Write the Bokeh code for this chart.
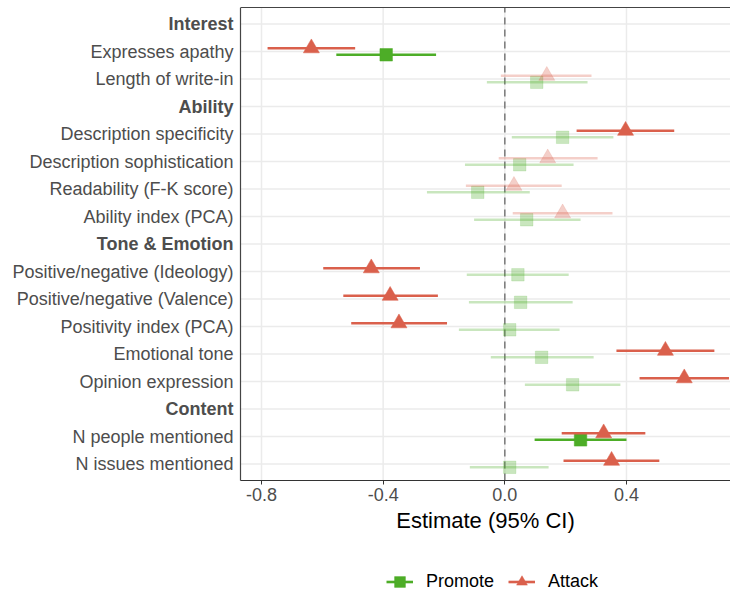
from bokeh.plotting import figure
from bokeh.models import (ColumnDataSource, Range1d, FixedTicker, LinearAxis,
                          Legend, LegendItem, PrintfTickFormatter)
from bokeh.core.properties import value
from bokeh.transform import dodge
from bokeh.embed import file_html
from bokeh.resources import INLINE

# ---------------- data ----------------
rows = ["Interest", "Expresses apathy", "Length of write-in",
        "Ability", "Description specificity", "Description sophistication",
        "Readability (F-K score)", "Ability index (PCA)",
        "Tone & Emotion", "Positive/negative (Ideology)", "Positive/negative (Valence)",
        "Positivity index (PCA)", "Emotional tone", "Opinion expression",
        "Content", "N people mentioned", "N issues mentioned"]
headers = ["Interest", "Ability", "Tone & Emotion", "Content"]
outcomes = [r for r in rows if r not in headers]

promote_est = [-0.390, 0.105, 0.190, 0.049, -0.089, 0.072, 0.043, 0.052, 0.016, 0.121, 0.223, 0.249, 0.016]
promote_lo  = [-0.554, -0.059, 0.023, -0.131, -0.256, -0.101, -0.125, -0.118, -0.151, -0.046, 0.066, 0.098, -0.115]
promote_hi  = [-0.226, 0.272, 0.357, 0.226, 0.082, 0.249, 0.210, 0.223, 0.180, 0.292, 0.380, 0.400, 0.144]
promote_sig = [True, False, False, False, False, False, False, False, False, False, False, True, False]

attack_est = [-0.636, 0.138, 0.397, 0.141, 0.030, 0.190, -0.439, -0.377, -0.348, 0.528, 0.590, 0.325, 0.351]
attack_lo  = [-0.780, -0.013, 0.236, -0.020, -0.128, 0.026, -0.597, -0.531, -0.505, 0.367, 0.443, 0.187, 0.193]
attack_hi  = [-0.492, 0.285, 0.557, 0.305, 0.187, 0.354, -0.279, -0.220, -0.190, 0.689, 0.737, 0.462, 0.508]
attack_sig = [True, False, True, False, False, False, True, True, True, True, True, True, True]

x_ticks = [-0.8, -0.4, 0.0, 0.4]

# ---------------- layout / style ----------------
W, H = 730, 595
PANEL_LEFT, PANEL_TOP, PANEL_BOTTOM = 240, 7, 480      # pixel box of the data panel
PLOT_X_MIN, PLOT_X_MAX = -0.869, 0.742                 # data extent of the panel (x)
n = len(rows)
Y_MIN, Y_MAX = -0.6, n - 1 + 0.6                       # data extent of the panel (y)
PX_X = (W - PANEL_LEFT) / (PLOT_X_MAX - PLOT_X_MIN)
PX_Y = (PANEL_BOTTOM - PANEL_TOP) / (Y_MAX - Y_MIN)

PROMOTE_COLOR = "#4DAD27"
ATTACK_COLOR = "#DA604C"
FONT = "Liberation Sans"
TEXT_GRAY = "#4D4D4D"
GRID = "#EBEBEB"
BORDER = "#444444"

row_pos = {r: n - 1 - i for i, r in enumerate(rows)}


def make_source(est, lo, hi, sig, want):
    idx = [i for i, s in enumerate(sig) if s == want]
    return ColumnDataSource(dict(y=[row_pos[outcomes[i]] for i in idx],
                                 est=[est[i] for i in idx],
                                 lo=[lo[i] for i in idx],
                                 hi=[hi[i] for i in idx]))


p = figure(width=W, height=H,
           x_range=Range1d(PLOT_X_MIN - PANEL_LEFT / PX_X, PLOT_X_MAX),
           y_range=Range1d(Y_MAX - (H - PANEL_TOP) / PX_Y, Y_MAX),
           output_backend="svg", toolbar_location=None,
           min_border_left=0, min_border_right=0, min_border_top=PANEL_TOP, min_border_bottom=0)

p.background_fill_color = "white"
p.border_fill_color = "white"
p.outline_line_color = None
p.yaxis.visible = False
p.ygrid.visible = False
p.xgrid.visible = False

# vertical grid lines (panel only)
vg_src = ColumnDataSource(dict(x=x_ticks))
p.segment(x0="x", x1="x", y0=Y_MIN, y1=Y_MAX, source=vg_src,
          line_color=GRID, line_width=1.5)

# horizontal grid lines (panel only)
grid_src = ColumnDataSource(dict(y=[row_pos[r] for r in rows]))
p.segment(x0=PLOT_X_MIN, x1=PLOT_X_MAX, y0="y", y1="y", source=grid_src,
          line_color=GRID, line_width=1.5)

# zero reference line
p.segment(x0=0, x1=0, y0=Y_MIN, y1=Y_MAX, line_color="#7A7A7A",
          line_width=1.5, line_dash="7 5")

# panel left border
p.segment(x0=PLOT_X_MIN, x1=PLOT_X_MIN, y0=Y_MIN, y1=Y_MAX,
          line_color=BORDER, line_width=1.2)

legend_items = []
for name, color, est, lo, hi, sig, off, marker, size in [
        ("Promote", PROMOTE_COLOR, promote_est, promote_lo, promote_hi, promote_sig, -0.12, "square", 12.5),
        ("Attack", ATTACK_COLOR, attack_est, attack_lo, attack_hi, attack_sig, 0.12, "triangle", 16)]:
    rends = None
    for want, alpha in [(False, 0.3), (True, 1.0)]:
        src = make_source(est, lo, hi, sig, want)
        yd = dodge("y", off)
        seg = p.segment(x0="lo", x1="hi", y0=yd, y1=yd, source=src,
                        line_color=color, line_width=2.6, line_alpha=alpha)
        sc = p.scatter(x="est", y=yd, source=src, marker=marker, size=size,
                       fill_color=color, line_color=color, line_width=0.5,
                       fill_alpha=alpha, line_alpha=alpha)
        if want:
            rends = [seg, sc]
    legend_items.append(LegendItem(label=name, renderers=rends))

# row labels: outcomes regular, section headers bold
lab_src = ColumnDataSource(dict(label=outcomes, y=[row_pos[r] for r in outcomes],
                                x=[PLOT_X_MIN] * len(outcomes)))
p.text(x="x", y="y", text="label", source=lab_src, x_offset=-7,
       text_align="right", text_baseline="middle", text_font=value(FONT),
       text_font_size=value("18px"), text_color=TEXT_GRAY)
hdr_src = ColumnDataSource(dict(label=headers, y=[row_pos[h] for h in headers],
                                x=[PLOT_X_MIN] * len(headers)))
p.text(x="x", y="y", text="label", source=hdr_src, x_offset=-7,
       text_align="right", text_baseline="middle", text_font=value(FONT),
       text_font_size=value("18px"), text_font_style=value("bold"), text_color=TEXT_GRAY)

# x axis, pinned to the bottom of the data panel
xa = p.xaxis[0]
xa.fixed_location = Y_MIN
xa.bounds = (PLOT_X_MIN, PLOT_X_MAX)
xa.ticker = FixedTicker(ticks=x_ticks)
xa.formatter = PrintfTickFormatter(format="%.1f")
xa.minor_tick_line_color = None
xa.major_tick_in = 0
xa.major_tick_out = 4
xa.major_tick_line_color = "#333333"
xa.axis_line_color = "#333333"
xa.major_label_text_font = FONT
xa.major_label_text_font_size = "18px"
xa.major_label_text_color = TEXT_GRAY
xa.major_label_standoff = 3
xa.axis_label = "Estimate (95% CI)"
xa.axis_label_text_font = FONT
xa.axis_label_text_font_size = "22px"
xa.axis_label_text_font_style = "normal"
xa.axis_label_text_color = "black"
xa.axis_label_standoff = 4

# top border of the panel
top = LinearAxis(bounds=(PLOT_X_MIN, PLOT_X_MAX), ticker=FixedTicker(ticks=[]),
                 major_tick_out=0, major_tick_in=0, minor_tick_out=0, minor_tick_in=0,
                 major_label_standoff=0, major_label_text_font_size="0px",
                 axis_line_color=BORDER, axis_line_width=1.2)
p.add_layout(top, "above")

legend = Legend(items=legend_items, orientation="horizontal",
                location=(386, 0), glyph_width=27, glyph_height=27,
                label_standoff=13, spacing=14, padding=0, margin=0,
                label_text_font=FONT, label_text_font_size="18px",
                label_text_color="black", border_line_color=None,
                background_fill_alpha=0)
p.add_layout(legend, "center")

open("out.html", "w").write(file_html(p, INLINE))
